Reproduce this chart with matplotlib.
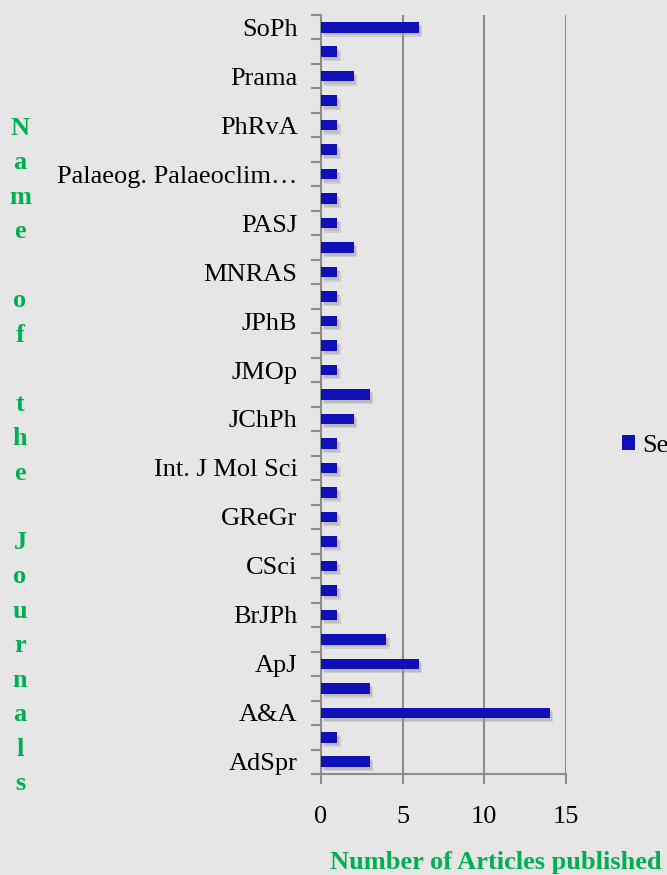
import numpy as np
import matplotlib.pyplot as plt
import matplotlib.patheffects as pe
from matplotlib.patches import Patch

# categories from top to bottom; only every other one carries a visible label
journals = [
    "SoPh", "", "Prama", "", "PhRvA", "", "Palaeog. Palaeoclim\u2026", "",
    "PASJ", "", "MNRAS", "", "JPhB", "", "JMOp", "", "JChPh", "",
    "Int. J Mol Sci", "", "GReGr", "", "CSci", "", "BrJPh", "", "ApJ", "",
    "A&A", "", "AdSpr",
]
articles = [
    6, 1, 2, 1, 1, 1, 1, 1,
    1, 2, 1, 1, 1, 1, 1, 3, 2, 1,
    1, 1, 1, 1, 1, 1, 1, 4, 6, 3,
    14, 1, 3,
]
xticks = [0, 5, 10, 15]
ylabel_letters = list("Name") + [""] + list("of") + [""] + list("the") + [""] + list("Journals")

bg = "#e6e6e6"
bar_color = "#1010b8"
green = "#00b050"
axis_gray = "#8c8c8c"

plt.rcParams["font.family"] = ["Liberation Serif", "DejaVu Serif"]

fig = plt.figure(figsize=(6.67, 8.75), dpi=100, facecolor=bg)
ax = fig.add_axes([321 / 667, 1 - 774 / 875, 245 / 667, 759 / 875])
ax.set_facecolor(bg)

n = len(journals)
ypos = np.arange(n)[::-1]
bars = ax.barh(ypos, articles, height=0.43, color=bar_color, zorder=3)
for b in bars:
    b.set_path_effects([
        pe.SimplePatchShadow(offset=(2.5, -3), shadow_rgbFace="#9a9a9a", alpha=0.3),
        pe.SimplePatchShadow(offset=(1.5, -2), shadow_rgbFace="#9a9a9a", alpha=0.35),
        pe.Normal(),
    ])

ax.set_xlim(0, 15)
ax.set_ylim(-0.5, n - 0.5)
ax.set_xticks(xticks)
ax.set_xticklabels([str(t) for t in xticks], fontsize=19)
ax.tick_params(axis="x", length=7, width=1.5, color=axis_gray, pad=16)

ax.set_yticks(np.arange(n + 1) - 0.5)
ax.set_yticklabels([])
ax.tick_params(axis="y", which="major", length=7, width=1.5, color=axis_gray)
ax.set_yticks(ypos, minor=True)
ax.set_yticklabels(journals, minor=True, fontsize=19)
ax.tick_params(axis="y", which="minor", length=0, pad=17)

ax.grid(axis="x", color=axis_gray, linewidth=1.5, zorder=0)
for s in ["top", "right"]:
    ax.spines[s].set_visible(False)
for s in ["left", "bottom"]:
    ax.spines[s].set_color(axis_gray)
    ax.spines[s].set_linewidth(1.5)

fig.text(20 / 667, 1 - 456 / 875, "\n".join(ylabel_letters), color=green,
         fontsize=19, fontweight="bold", ha="center", va="center", linespacing=1.64)
fig.text(330 / 667, 1 - 862 / 875, "Number of Articles published", color=green,
         fontsize=19, fontweight="bold", ha="left", va="center")

fig.legend(handles=[Patch(facecolor=bar_color, label="Series1")], loc="center left",
           bbox_to_anchor=(622 / 667, 1 - 446 / 875), frameon=False, fontsize=19,
           borderpad=0, borderaxespad=0, handlelength=0.5, handleheight=0.5,
           handletextpad=0.25)

fig.savefig("out.png", dpi=100, facecolor=bg)
